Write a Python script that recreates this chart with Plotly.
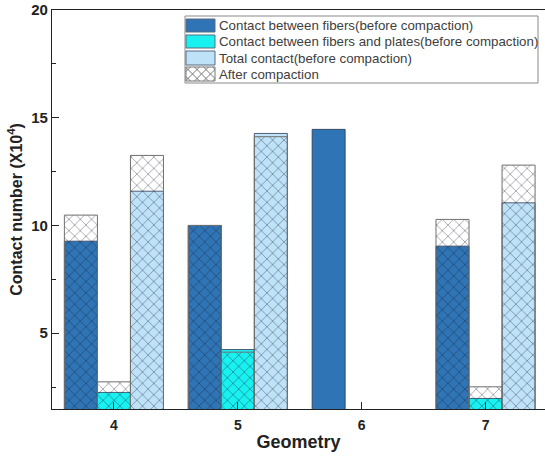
import plotly.graph_objects as go

geometry = [4, 5, 6, 7]
tick_labels = ["4", "5", "6", "7"]

fibers_before = [9.27, 10.0, 14.46, 9.04]
plates_before = [2.25, 4.24, None, 1.97]
total_before = [11.59, 14.27, None, 11.05]

fibers_after = [10.48, 10.0, None, 10.28]
plates_after = [2.74, 4.12, None, 2.51]
total_after = [13.25, 14.12, None, 12.80]

names = ["Contact between fibers(before compaction)",
         "Contact between fibers and plates(before compaction)",
         "Total contact(before compaction)",
         "After compaction"]

colors = ["#2F74B5", "#19F0F0", "#BEE2F8"]
W = 0.2667
offsets = [-0.4, -0.1333, 0.1333]
FONT = "Arial, Liberation Sans, sans-serif"

# plot-area geometry in pixels (for the hand-drawn legend)
L, T, PW, PH = 52, 10, 493, 399
def px(x):
    return (x - L) / PW
def py(y):
    return 1 - (y - T) / PH

fig = go.Figure()
befores = [fibers_before, plates_before, total_before]
afters = [fibers_after, plates_after, total_after]
for i in range(3):
    fig.add_trace(go.Bar(
        x=geometry, y=befores[i], name=names[i], width=W, offset=offsets[i],
        marker=dict(color=colors[i], line=dict(color="#2b3a55", width=0.8)),
        showlegend=False,
    ))
for i in range(3):
    fig.add_trace(go.Bar(
        x=geometry, y=afters[i], name=names[3], width=W, offset=offsets[i],
        showlegend=False,
        marker=dict(color="rgba(255,255,255,0)",
                    line=dict(color="#707070", width=1),
                    pattern=dict(shape="x", size=8, solidity=0.2,
                                 fgcolor="rgba(20,25,45,0.85)",
                                 bgcolor="rgba(255,255,255,0)")),
    ))

# legend drawn by hand
shapes = []
annotations = []
shapes.append(dict(type="rect", xref="paper", yref="paper",
                   x0=px(185), x1=px(538), y0=py(83), y1=py(16),
                   line=dict(color="#8a8a8a", width=1), fillcolor="white", layer="above"))
rows = [(19, 32), (35, 48), (51, 65), (67, 81)]
sx0, sx1 = 186, 215
for k, (y0, y1) in enumerate(rows):
    fill = colors[k] if k < 3 else "white"
    shapes.append(dict(type="rect", xref="paper", yref="paper",
                       x0=px(sx0), x1=px(sx1), y0=py(y1), y1=py(y0),
                       line=dict(color="#5a6a80" if k < 3 else "#777", width=1),
                       fillcolor=fill, layer="above"))
    annotations.append(dict(xref="paper", yref="paper", x=px(217), y=py((y0 + y1) / 2),
                            text=names[k], showarrow=False, xanchor="left", yanchor="middle",
                            font=dict(size=13.3, color="#404040", family=FONT)))
# crosshatch for the "After compaction" swatch
hy0, hy1 = rows[3]
uw, vh = sx1 - sx0, hy1 - hy0
segs = []
for c in [-9.5, -0.5, 8.5, 17.5, 26.5]:
    vlo, vhi = max(0, -c), min(vh, uw - c)
    if vhi > vlo:
        segs.append(((vlo + c, vlo), (vhi + c, vhi)))
for c in [4.5, 13.5, 22.5, 31.5, 40.5]:
    vlo, vhi = max(0, c - uw), min(vh, c)
    if vhi > vlo:
        segs.append(((c - vlo, vlo), (c - vhi, vhi)))
path = ""
for (u0, v0), (u1, v1) in segs:
    path += "M{:.5f},{:.5f} L{:.5f},{:.5f} ".format(px(sx0 + u0), py(hy1 - v0), px(sx0 + u1), py(hy1 - v1))
shapes.append(dict(type="path", xref="paper", yref="paper", path=path,
                   line=dict(color="#777", width=1), layer="above"))

fig.update_layout(
    width=545, height=457,
    margin=dict(l=L, r=0, t=T, b=48),
    barmode="overlay",
    paper_bgcolor="white", plot_bgcolor="white",
    font=dict(family=FONT, color="#222"),
    showlegend=False,
    shapes=shapes, annotations=annotations,
    xaxis=dict(range=[3.5, 7.48], tickvals=geometry, ticktext=tick_labels,
               automargin=False,
               showline=True, linecolor="#222", linewidth=1.2, mirror=True,
               ticks="inside", ticklen=7, tickcolor="#222",
               ticklabelstandoff=3,
               showgrid=False, zeroline=False,
               tickfont=dict(size=14, family=FONT, weight="bold", color="#222"),
               title=dict(text="Geometry", standoff=3,
                          font=dict(size=18, family=FONT, weight="bold", color="#222"))),
    yaxis=dict(range=[1.48, 20], tickvals=[5, 10, 15, 20],
               automargin=False,
               showline=True, linecolor="#222", linewidth=1.2, mirror=False,
               ticks="inside", ticklen=7, tickcolor="#222",
               minor=dict(tickvals=[2.5, 7.5, 12.5, 17.5], ticks="inside", ticklen=4, tickcolor="#222"),
               showgrid=False, zeroline=False,
               tickfont=dict(size=15, family=FONT, weight="bold", color="#222"),
               title=dict(text="Contact number (X10<sup>4</sup>)", standoff=4,
                          font=dict(size=16, family=FONT, weight="bold", color="#222"))),
)

fig.write_html("out.html", config={"displayModeBar": False},
               post_script="document.body.style.margin='0';document.body.style.overflow='hidden';")
